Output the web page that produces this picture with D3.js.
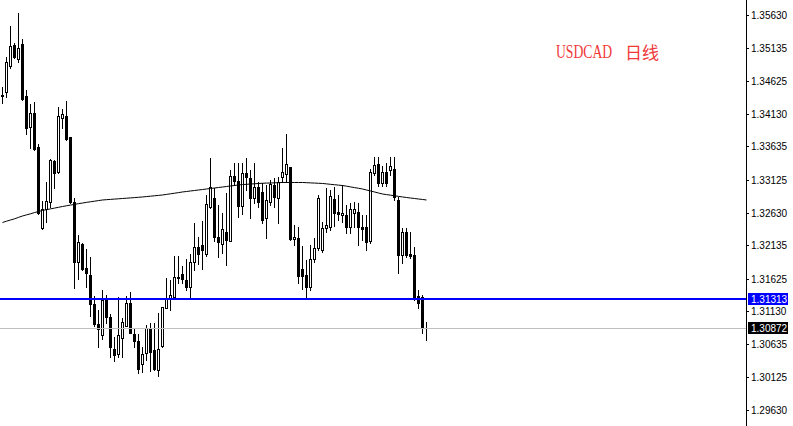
<!DOCTYPE html>
<html><head><meta charset="utf-8">
<script src="https://cdn.jsdelivr.net/npm/d3@7"></script>
<style>html,body{margin:0;padding:0;background:#fff;overflow:hidden}</style>
</head><body>
<svg id="c" width="793" height="426"></svg>
<script>
const opens = [1.34415,1.34461,1.34855,1.35174,1.34962,1.35190,1.34400,1.33929,1.34142,1.33625,
1.32395,1.32683,1.32790,1.33412,1.33245,1.34066,1.34096,1.33777,1.32790,1.31878,
1.32152,1.31787,1.31681,1.31240,1.30936,1.30769,1.31331,1.31043,1.30557,1.30481,
1.30724,1.30906,1.31255,1.30785,1.30678,1.30329,1.30496,1.30876,1.30542,1.30238,
1.30602,1.31179,1.31316,1.31347,1.31650,1.31696,1.31605,1.31498,1.31878,1.32106,
1.32136,1.32000,1.32714,1.32850,1.32258,1.32152,1.32334,1.32197,1.33185,1.33109,
1.32729,1.33230,1.33154,1.32850,1.33017,1.32942,1.32547,1.32790,1.33048,1.32850,
1.33169,1.33215,1.33321,1.32228,1.32243,1.31772,1.31681,1.31498,1.31924,1.32091,
1.32061,1.32395,1.32410,1.32835,1.32638,1.32592,1.32592,1.32410,1.32623,1.32638,
1.32410,1.32410,1.32197,1.33230,1.33367,1.33078,1.33245,1.33276,1.33291,1.32820,
1.31985,1.32334,1.32000,1.31985,1.31362,1.31347,1.30876];
const highs = [1.34536,1.34992,1.35463,1.35205,1.35661,1.35266,1.34491,1.34278,1.34309,1.33671,
1.32805,1.33093,1.33443,1.33428,1.34233,1.34202,1.34324,1.33777,1.32850,1.32288,
1.32167,1.32076,1.31954,1.31362,1.31149,1.31453,1.31377,1.31088,1.30739,1.31347,
1.31028,1.31362,1.31423,1.30876,1.30785,1.30587,1.30921,1.30952,1.30952,1.31104,
1.31195,1.31635,1.31605,1.31969,1.31969,1.31817,1.31924,1.32000,1.32471,1.32258,
1.32501,1.32896,1.33458,1.33002,1.32744,1.32623,1.32926,1.33276,1.33382,1.33382,
1.33382,1.33458,1.33276,1.33382,1.33093,1.33078,1.33048,1.33124,1.33154,1.33169,
1.33610,1.33823,1.33321,1.32440,1.32410,1.32121,1.31909,1.32136,1.32243,1.32896,
1.32486,1.33002,1.32972,1.33017,1.32896,1.33048,1.32744,1.32774,1.32790,1.32774,
1.32592,1.32592,1.33291,1.33473,1.33473,1.33336,1.33382,1.33473,1.33473,1.32866,
1.32395,1.32395,1.32334,1.32106,1.31453,1.31377,1.30967];
const lows = [1.34293,1.34385,1.34825,1.34977,1.34916,1.34339,1.33823,1.33610,1.33580,1.32607,
1.32379,1.32486,1.32714,1.33002,1.33230,1.33914,1.33731,1.32774,1.31483,1.31620,
1.31757,1.31498,1.31058,1.30906,1.30587,1.30709,1.30952,1.30435,1.30374,1.30435,
1.30435,1.30906,1.30800,1.30587,1.30192,1.30207,1.30390,1.30223,1.30238,1.30147,
1.30587,1.31179,1.31149,1.31331,1.31559,1.31559,1.31453,1.31347,1.31757,1.31848,
1.31772,1.31969,1.32698,1.32197,1.31954,1.32015,1.31833,1.32197,1.33048,1.32562,
1.32607,1.32972,1.32547,1.32774,1.32714,1.32471,1.32243,1.32744,1.32714,1.32471,
1.33093,1.33093,1.32212,1.32136,1.31559,1.31468,1.31331,1.31453,1.31878,1.32061,
1.32030,1.32334,1.32364,1.32425,1.32516,1.32486,1.32319,1.32319,1.32410,1.32136,
1.32212,1.32061,1.32167,1.33200,1.33033,1.33033,1.33033,1.33200,1.32820,1.31711,
1.31863,1.31954,1.31939,1.31301,1.31179,1.30800,1.30693];
const closes = [1.34400,1.34916,1.35159,1.34992,1.35129,1.34354,1.33914,1.34142,1.33595,1.32623,
1.32683,1.32805,1.33428,1.33230,1.34096,1.34126,1.33747,1.32790,1.31878,1.32182,
1.31772,1.31711,1.31240,1.30936,1.30860,1.31301,1.31043,1.30587,1.30466,1.30769,
1.30967,1.31255,1.30800,1.30678,1.30253,1.30481,1.30876,1.30511,1.30253,1.30557,
1.31195,1.31316,1.31377,1.31650,1.31635,1.31620,1.31498,1.31878,1.32106,1.32000,
1.32061,1.32759,1.33017,1.32258,1.32182,1.32379,1.32212,1.33185,1.33109,1.32729,
1.33230,1.33169,1.32850,1.33017,1.32790,1.32516,1.32820,1.33063,1.32866,1.33093,
1.33245,1.33367,1.32228,1.32258,1.31666,1.31666,1.31498,1.31924,1.32091,1.32850,
1.32395,1.32440,1.32881,1.32623,1.32607,1.32623,1.32410,1.32683,1.32683,1.32410,
1.32379,1.32182,1.33245,1.33352,1.33078,1.33245,1.33078,1.33336,1.32866,1.31985,
1.32334,1.31985,1.31969,1.31347,1.31255,1.30876,1.30872];
const maValues = [1.32478,1.32498,1.32516,1.32534,1.32556,1.32577,1.32594,1.32610,1.32629,1.32645,
1.32661,1.32673,1.32685,1.32697,1.32709,1.32721,1.32732,1.32743,1.32753,1.32764,
1.32774,1.32784,1.32793,1.32802,1.32811,1.32820,1.32825,1.32829,1.32834,1.32838,
1.32843,1.32847,1.32852,1.32856,1.32861,1.32866,1.32872,1.32878,1.32884,1.32890,
1.32896,1.32905,1.32914,1.32923,1.32932,1.32942,1.32949,1.32957,1.32964,1.32972,
1.32979,1.32987,1.32995,1.33002,1.33010,1.33017,1.33025,1.33033,1.33040,1.33048,
1.33055,1.33058,1.33063,1.33066,1.33071,1.33074,1.33077,1.33078,1.33081,1.33083,
1.33086,1.33086,1.33086,1.33086,1.33086,1.33086,1.33083,1.33080,1.33077,1.33074,
1.33071,1.33065,1.33058,1.33052,1.33046,1.33040,1.33030,1.33019,1.33008,1.32998,
1.32987,1.32972,1.32957,1.32942,1.32926,1.32911,1.32902,1.32893,1.32884,1.32875,
1.32866,1.32858,1.32850,1.32843,1.32835,1.32828,1.32820];
const tickValues = [1.35630,1.35135,1.34625,1.34130,1.33635,1.33125,1.32630,1.32135,1.31625,1.31130,1.30635,1.30125,1.29630];
const levelLine = 1.31313;
const bidPrice = 1.30872;
const titleSymbol = "USDCAD";
const titlePeriod = "日线";

const W = 793, H = 426, axisX = 746;
const n = opens.length;
const svg = d3.select("#c");
const x = d3.scaleLinear().domain([0, n - 1]).range([2.5, 2.5 + 4 * (n - 1)]);
const y = d3.scaleLinear().domain([1.29630, 1.35630]).range([410, 15]);
const yr = y.copy().interpolate(d3.interpolateRound);

const bars = d3.range(n).map(i => ({i, o: opens[i], h: highs[i], l: lows[i], c: closes[i]}));

// candles
const g = svg.append("g");
bars.forEach(d => {
  const cx = x(d.i);
  g.append("line").attr("x1", cx).attr("x2", cx)
    .attr("y1", yr(d.h)).attr("y2", yr(d.l) + 1)
    .attr("stroke", "#000").attr("stroke-width", 1);
  const top = yr(Math.max(d.o, d.c)), bot = yr(Math.min(d.o, d.c));
  if (d.c >= d.o && bot - top >= 2) {
    g.append("rect").attr("x", cx - 1).attr("y", top + 0.5)
      .attr("width", 2).attr("height", bot - top)
      .attr("fill", "#fff").attr("stroke", "#000").attr("stroke-width", 1);
  } else {
    g.append("rect").attr("x", cx - 1.5).attr("y", top)
      .attr("width", 3).attr("height", Math.max(1, bot - top + 1)).attr("fill", "#000");
  }
});

// moving average
svg.append("path").datum(maValues)
  .attr("d", d3.line().x((v, i) => x(i)).y(v => y(v)))
  .attr("fill", "none").attr("stroke", "#000").attr("stroke-width", 1);

// bid line (gray) and level line (blue)
svg.append("line").attr("x1", 0).attr("x2", axisX)
  .attr("y1", yr(bidPrice) + 0.5).attr("y2", yr(bidPrice) + 0.5)
  .attr("stroke", "#c0c0c0").attr("stroke-width", 1);
svg.append("line").attr("x1", 0).attr("x2", axisX)
  .attr("y1", yr(levelLine)).attr("y2", yr(levelLine))
  .attr("stroke", "#0000ff").attr("stroke-width", 2);

// right price axis
svg.append("line").attr("x1", axisX + 0.5).attr("x2", axisX + 0.5)
  .attr("y1", 0).attr("y2", H).attr("stroke", "#000").attr("stroke-width", 1);
const axis = d3.axisRight(yr).tickValues(tickValues).tickSize(3).tickPadding(2)
  .tickFormat(d3.format(".5f"));
const ag = svg.append("g").attr("transform", `translate(${axisX},0)`).call(axis);
ag.select(".domain").remove();
ag.selectAll(".tick line").attr("stroke", "#000");
ag.selectAll(".tick text").attr("fill", "#000")
  .attr("font-family", "Liberation Sans, Arial, sans-serif").attr("font-size", 10);

// price labels
function priceTag(v, bg) {
  const yy = yr(v);
  svg.append("rect").attr("x", axisX + 2).attr("y", yy - 6).attr("width", 40).attr("height", 12).attr("fill", bg);
  svg.append("text").attr("x", axisX + 5).attr("y", yy).attr("dy", "0.35em")
    .attr("fill", "#fff").attr("font-family", "Liberation Sans, Arial, sans-serif").attr("font-size", 10)
    .text(d3.format(".5f")(v));
}
priceTag(levelLine, "#0000ff");
priceTag(bidPrice, "#000");

// title: symbol condensed horizontally via transform, period separately
svg.append("text").attr("transform", "translate(556,58) scale(0.76,1)")
  .attr("font-family", "Liberation Serif, serif").attr("font-size", 18)
  .attr("fill", "#f03838").text(titleSymbol);
svg.append("text").attr("x", 625).attr("y", 59)
  .attr("font-family", "Noto Sans CJK SC, sans-serif").attr("font-size", 17)
  .attr("fill", "#f03838").text(titlePeriod);
</script>
</body></html>
